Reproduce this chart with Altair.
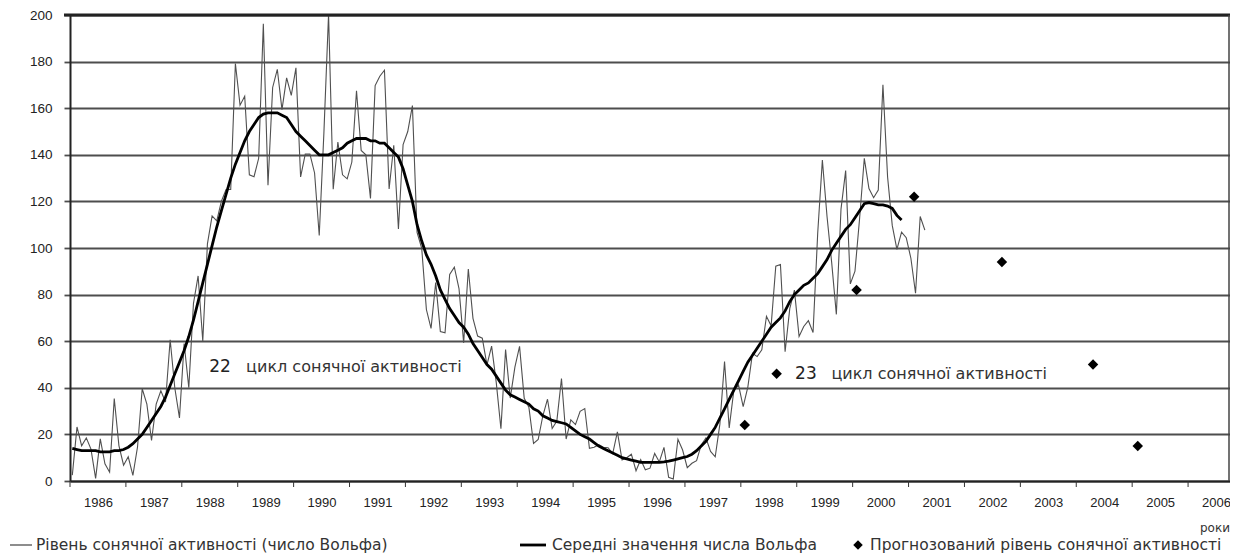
import altair as alt
import pandas as pd

# ---------------- data ----------------
data_years = list(range(1986, 2002))

wolf_1986 = [2.5, 23.2, 15.1, 18.5, 13.7, 1.1, 18.1, 7.4, 3.8, 35.4, 15.2, 6.8]
wolf_1987 = [10.4, 2.4, 14.7, 39.6, 33.0, 17.4, 33.0, 38.7, 33.9, 60.6, 39.9, 27.1]
wolf_1988 = [59.0, 40.0, 76.2, 88.0, 60.1, 101.8, 113.8, 111.6, 120.1, 125.1, 125.1, 179.2]
wolf_1989 = [161.3, 165.1, 131.4, 130.6, 138.5, 196.2, 126.9, 168.9, 176.7, 159.4, 173.0, 165.5]
wolf_1990 = [177.3, 130.5, 140.3, 140.3, 132.2, 105.4, 149.4, 200.3, 125.2, 145.5, 131.4, 129.7]
wolf_1991 = [136.9, 167.5, 141.9, 140.0, 121.3, 169.7, 173.7, 176.3, 125.3, 144.1, 108.2, 144.4]
wolf_1992 = [150.0, 161.1, 106.7, 99.8, 73.6, 65.5, 85.2, 64.1, 63.6, 88.7, 91.8, 82.6]
wolf_1993 = [59.3, 91.0, 69.8, 62.2, 61.3, 49.8, 57.9, 42.2, 22.4, 56.4, 35.6, 48.9]
wolf_1994 = [57.8, 35.5, 31.7, 16.1, 17.8, 28.0, 35.1, 22.5, 25.7, 44.0, 18.0, 26.2]
wolf_1995 = [24.2, 29.9, 31.1, 14.0, 14.5, 15.6, 14.5, 14.3, 11.8, 21.1, 9.0, 10.0]
wolf_1996 = [11.5, 4.4, 9.2, 4.8, 5.5, 11.8, 8.2, 14.4, 1.6, 0.9, 17.9, 13.3]
wolf_1997 = [5.7, 7.6, 8.7, 15.5, 18.5, 12.7, 10.4, 24.4, 51.3, 22.8, 39.0, 41.2]
wolf_1998 = [31.9, 40.3, 54.8, 53.4, 56.3, 70.7, 66.6, 92.2, 92.9, 55.5, 74.0, 81.9]
wolf_1999 = [62.0, 66.3, 68.8, 63.7, 106.4, 137.7, 113.5, 93.7, 71.5, 116.7, 133.2, 84.6]
wolf_2000 = [90.1, 112.9, 138.5, 125.5, 121.6, 124.9, 170.1, 130.5, 109.7, 99.4, 106.8, 104.4]
wolf_2001 = [95.6, 80.6, 113.5, 107.7]

mean_1986 = [14, 13.5, 13, 13, 13, 13, 12.5, 12.5, 12.5, 13, 13, 13.5]
mean_1987 = [14.5, 16, 18, 20, 23, 26, 29, 32, 36, 41, 46, 51]
mean_1988 = [56, 62, 69, 77, 85, 93, 101, 109, 116, 123, 130, 136]
mean_1989 = [141, 146, 150, 153, 156, 157.5, 158, 158, 158, 157, 156, 153]
mean_1990 = [150, 148, 146, 144, 142, 140, 140, 140, 141, 142, 143, 145]
mean_1991 = [146, 147, 147, 147, 146, 146, 145, 145, 143, 141, 139, 134]
mean_1992 = [127, 120, 110, 103, 97, 93, 88, 82, 78, 74, 71, 68]
mean_1993 = [66, 63, 59, 56, 53, 50, 48, 45, 42, 39, 37, 36]
mean_1994 = [35, 34, 33, 31, 30, 28, 27, 26, 25.5, 25, 24.5, 23]
mean_1995 = [21.5, 20, 19, 18, 16.5, 15, 14, 13, 12, 11, 10, 9.5]
mean_1996 = [9, 8.5, 8, 8, 8, 8, 8, 8.2, 8.5, 9, 9.5, 10]
mean_1997 = [10.5, 11.5, 13, 15, 17, 20, 23, 27, 31, 35, 39, 43]
mean_1998 = [47, 51, 54, 57, 60, 63, 66, 68, 70, 73, 77, 80]
mean_1999 = [82, 84, 85, 87, 89, 92, 95, 99, 102, 105, 108, 110]
mean_2000 = [113, 116, 119, 119.5, 119, 118.5, 118.5, 118, 117, 114, 112]

forecast_years = [1998.07, 1998.64, 2000.07, 2001.1, 2002.67, 2004.3, 2005.1]
forecast_values = [24, 46, 82, 122, 94, 50, 15]

axis_years = list(range(1986, 2007))
y_ticks = list(range(0, 201, 20))

cycle_labels = ["22", "23"]
cycle_years = [1988.49, 1998.97]
cycle_text_years = [1989.15, 1999.62]
cycle_values = [48.8, 46]
cycle_text = "цикл сонячної активності"

legend_labels = [
    "Рівень сонячної активності (число Вольфа)",
    "Середні значення числа Вольфа",
    "Прогнозований рівень сонячної активності",
]
x_title = "роки"

# ---------------- tables ----------------
wolf_lists = [wolf_1986, wolf_1987, wolf_1988, wolf_1989, wolf_1990, wolf_1991,
              wolf_1992, wolf_1993, wolf_1994, wolf_1995, wolf_1996, wolf_1997,
              wolf_1998, wolf_1999, wolf_2000, wolf_2001]
mean_lists = [mean_1986, mean_1987, mean_1988, mean_1989, mean_1990, mean_1991,
              mean_1992, mean_1993, mean_1994, mean_1995, mean_1996, mean_1997,
              mean_1998, mean_1999, mean_2000]

rows_w = []
for yr, vals in zip(data_years, wolf_lists):
    for i, v in enumerate(vals):
        rows_w.append({"t": yr + (i + 0.5) / 12, "v": v})
df_w = pd.DataFrame(rows_w)

rows_m = []
for yr, vals in zip(data_years, mean_lists):
    for i, v in enumerate(vals):
        rows_m.append({"t": yr + (i + 0.5) / 12, "v": v})
df_m = pd.DataFrame(rows_m)

df_f = pd.DataFrame({"t": forecast_years, "v": forecast_values})
df_ticks = pd.DataFrame({"t": axis_years})
df_cyc = pd.DataFrame({"t": cycle_years, "tt": cycle_text_years, "v": cycle_values,
                       "lab": cycle_labels, "txt": [cycle_text, cycle_text]})
one = pd.DataFrame({"a": [0]})

# ---------------- chart ----------------
W, H = 1160, 466
TOP, LEFT = 7, 62
xscale = alt.Scale(domain=[1986, 2006.75], nice=False, zero=False)
yscale = alt.Scale(domain=[0, 200], nice=False)
FONT = "DejaVu Sans"

x_axis = alt.Axis(values=[y + 0.5 for y in axis_years],
                  labelExpr="format(floor(datum.value), 'd')",
                  title=None, ticks=False, grid=False, domain=True,
                  domainColor="#222", domainWidth=2,
                  labelFont="Liberation Sans", labelFontSize=13, labelColor="#222",
                  labelPadding=15, labelOverlap=False, labelFlush=False)
y_axis = alt.Axis(values=y_ticks, title=None, grid=True, gridColor="#4d4d4d",
                  gridWidth=1.8, tickColor="#4d4d4d", tickSize=6, tickWidth=1.8,
                  domain=True, domainColor="#222", domainWidth=2,
                  labelFont="Liberation Sans", labelFontSize=13.5, labelColor="#222",
                  labelPadding=12)


def X(field):
    return alt.X(field, scale=xscale, axis=x_axis)


def Y(field):
    return alt.Y(field, scale=yscale, axis=y_axis)


thin = alt.Chart(df_w).mark_line(color="#505050", strokeWidth=1.1).encode(
    x=X("t:Q"), y=Y("v:Q"))

thick = alt.Chart(df_m).mark_line(color="#000000", strokeWidth=2.8).encode(
    x=X("t:Q"), y=Y("v:Q"))

diamonds = alt.Chart(df_f).mark_point(shape="diamond", filled=True, color="#000000",
                                      size=110, opacity=1).encode(
    x=X("t:Q"), y=Y("v:Q"))

xticks = alt.Chart(df_ticks).mark_rule(color="#333", strokeWidth=1).encode(
    x=X("t:Q"), y=alt.value(H), y2=alt.value(H + 6))

top_line = alt.Chart(one).mark_rule(color="#222", strokeWidth=3).encode(
    x=alt.value(-6), x2=alt.value(W), y=alt.value(0))
right_line = alt.Chart(one).mark_rule(color="#444", strokeWidth=1.5).encode(
    x=alt.value(W - 1), y=alt.value(0), y2=alt.value(H))

cyc_num = alt.Chart(df_cyc).mark_text(font=FONT, fontSize=17, align="left",
                                      baseline="middle", color="#222").encode(
    x=X("t:Q"), y=Y("v:Q"), text="lab:N")
cyc_txt = alt.Chart(df_cyc).mark_text(font=FONT, fontSize=16, align="left",
                                      baseline="middle", color="#333").encode(
    x=X("tt:Q"), y=Y("v:Q"), text="txt:N")

LY = 530
LFS = 15.5
leg1_line = alt.Chart(one).mark_rule(color="#505050", strokeWidth=1.3).encode(
    x=alt.value(-60), x2=alt.value(-38), y=alt.value(LY))
leg1_txt = alt.Chart(one).mark_text(font=FONT, fontSize=LFS, align="left", baseline="middle",
                                    color="#333", text=legend_labels[0]).encode(
    x=alt.value(-34), y=alt.value(LY))
leg2_line = alt.Chart(one).mark_rule(color="#000", strokeWidth=2.8).encode(
    x=alt.value(450), x2=alt.value(476), y=alt.value(LY))
leg2_txt = alt.Chart(one).mark_text(font=FONT, fontSize=LFS, align="left", baseline="middle",
                                    color="#333", text=legend_labels[1]).encode(
    x=alt.value(482), y=alt.value(LY))
leg3_pt = alt.Chart(one).mark_point(shape="diamond", filled=True, color="#000", size=90,
                                    opacity=1).encode(
    x=alt.value(788), y=alt.value(LY))
leg3_txt = alt.Chart(one).mark_text(font=FONT, fontSize=LFS, align="left", baseline="middle",
                                    color="#333", text=legend_labels[2]).encode(
    x=alt.value(800), y=alt.value(LY))
xtitle = alt.Chart(one).mark_text(font=FONT, fontSize=12, align="right", baseline="middle",
                                  color="#333", text=x_title).encode(
    x=alt.value(W), y=alt.value(513))

chart = alt.layer(
    thin, top_line, right_line, xticks, thick, diamonds, cyc_num, cyc_txt,
    leg1_line, leg1_txt, leg2_line, leg2_txt, leg3_pt, leg3_txt, xtitle,
).properties(
    width=W, height=H, autosize="none",
    padding={"left": LEFT, "top": TOP, "right": 0, "bottom": 77},
).configure_view(strokeWidth=0).configure(background="#ffffff")

chart.save("out.html", embed_options={"renderer": "svg", "actions": False})
